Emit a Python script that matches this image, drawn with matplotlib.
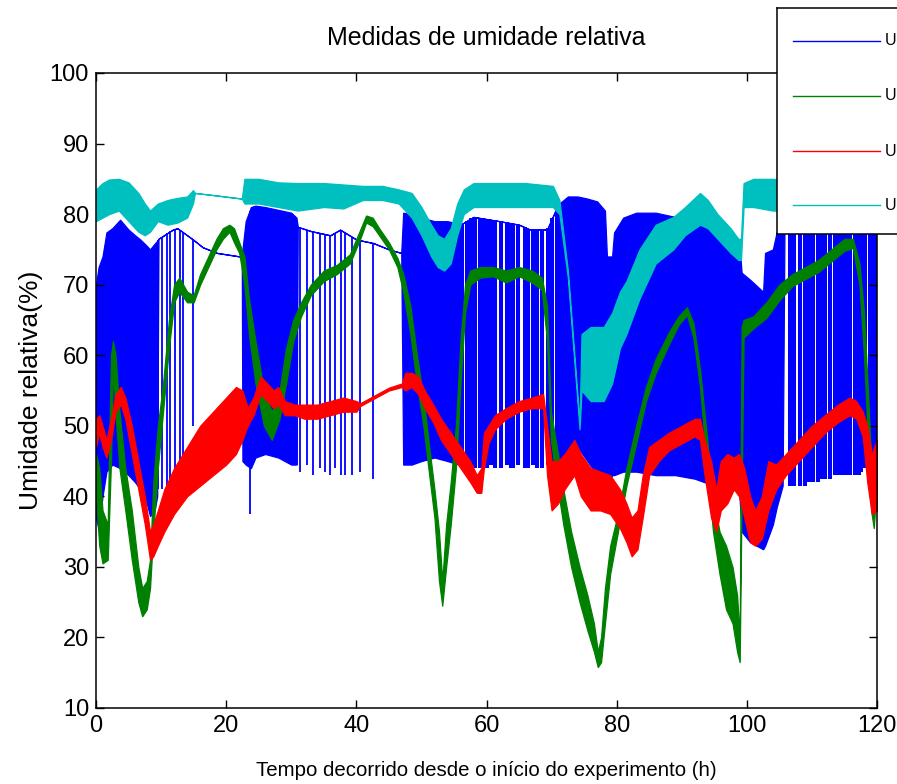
import numpy as np
import matplotlib
matplotlib.use("Agg")
import matplotlib.pyplot as plt

# ---------------- data: time (h) and relative humidity (%) ----------------
# Sensor 1 (blue): envelope of the fast oscillation (top / bottom).
# Where bottom == top only the upper trace is drawn; drops are listed apart.
blue_t = [0, 0.4, 1.0, 1.6, 2.5, 3.7, 5.0, 6.0, 6.8, 7.8, 8.3, 9.0, 9.4, 9.6,
          11.8, 12.5, 14.9, 16.4, 18.6, 22.1, 22.4, 22.5, 23.0, 23.8, 24.5,
          26.0, 28.0, 30.0, 30.8, 31.0, 33.0, 36.0, 37.5, 40.0, 42.6, 45.0,
          46.9, 47.2, 48.5, 50.0, 52.0, 54.0, 55.8, 56.0, 58.0, 62.0, 65.0,
          66.7, 69.3, 70.6, 71.2, 72.5, 74.0, 75.5, 77.0, 78.2, 78.5, 79.3,
          79.6, 81.0, 83.0, 86.0, 89.0, 92.0, 93.5, 95.0, 97.0, 98.8, 99.2,
          100.5, 102.5, 102.8, 104.0, 104.6, 105.5, 105.8, 110.0, 115.0, 120.0]
blue_top = [70, 72.5, 74, 77.4, 78, 79.2, 77.8, 77, 76.4, 75.5, 75, 75.8, 76.2, 76.5,
            77.8, 78, 76.4, 75.3, 74.5, 74, 74, 75, 79, 81, 81.2,
            81, 80.6, 80.2, 79.5, 78.2, 77.6, 77, 77.8, 76.4, 75.9, 75,
            74.5, 80.2, 80, 79.5, 79, 79, 78.6, 78.5, 79.6, 79, 78.5,
            77.8, 77.8, 80.5, 81.5, 82.5, 82.5, 82.2, 81.8, 80.5, 74, 74,
            77.4, 79.5, 80.2, 80.2, 79.6, 79.6, 78.8, 77.8, 77, 76.4, 71.7,
            70.7, 69, 74.5, 75, 77.5, 80, 80, 80, 80, 80]
blue_bot = [37, 35.3, 40, 43.5, 44.5, 44, 43, 42, 41, 39, 37.2, 38, 40, 76.5,
            77.8, 78, 76.4, 75.3, 74.5, 74, 74, 45, 44.5, 44, 45.5,
            46, 45.5, 44.5, 44.5, 78.2, 77.6, 77, 77.8, 76.4, 75.9, 75,
            74.5, 44.5, 44.5, 45, 45.5, 45, 44.5, 78.5, 79.6, 79, 78.5,
            77.8, 77.8, 80.5, 44, 46, 47, 45, 43, 41.5, 41.5, 43,
            43, 43.5, 43.5, 43, 43, 42.5, 42, 41.5, 41, 41, 35,
            33.5, 32.5, 33, 36, 38.5, 41.5, 80, 80, 80, 80]

# isolated drops of sensor 1
blue_drop_t = [9.5, 10.1, 10.9, 11.4, 12.1, 12.9, 13.4, 14.9, 23.6,
               30.9, 31.3, 32.4, 33.3, 34.4, 35.2, 36.0, 36.7, 37.6, 38.3,
               39.3, 40.6, 42.6]
blue_drop_low = [41, 41, 40.5, 41.5, 41, 41, 41.5, 50, 37.5,
                 44.5, 43.5, 44.5, 43, 44, 43.5, 43, 44, 43, 43,
                 43, 43.5, 42.5]

# closely packed drops of sensor 1
blue_burst_t = [56.3, 57.0, 57.6, 58.3, 59.0, 59.6, 60.1, 60.7, 61.3, 62.3,
                63.1, 63.7, 64.1, 64.9, 65.9, 66.4, 67.2, 67.8, 68.6, 69.4,
                70.1, 70.8,
                106.6, 107.3, 108.2, 108.9, 109.5, 110.1, 111.0, 111.5, 112.0,
                112.8, 113.6, 114.1, 114.7, 115.3, 115.8, 116.6, 117.2, 117.6,
                118.2, 118.9, 119.5, 119.9]
blue_burst_low = [44.5, 44, 44.5, 44, 44, 44.5, 44, 44.5, 44, 44,
                  44.5, 44, 44, 44.5, 44, 44, 44.5, 44, 44, 44.5,
                  45, 45,
                  41.5, 41.5, 41.5, 41.5, 42, 42, 42, 42.5, 42.5,
                  42.5, 43, 43, 43, 43, 43, 43, 43, 43.5,
                  44, 44, 44, 44]

# Sensor 2 (green): lower / upper edge of the noisy trace
green_t = [0, 0.5, 1.0, 1.8, 2.3, 2.6, 3.0, 3.6, 4.5, 5.5, 6.5, 7.1, 7.8, 8.3,
           8.8, 9.5, 10.3, 11.2, 12.0, 12.8, 14.0, 15.0, 16.0, 17.5, 18.5,
           19.5, 20.5, 21.2, 22.0, 22.8, 23.5, 24.5, 25.8, 27.0, 28.2, 29.2,
           30.3, 31.5, 33.0, 35.0, 37.0, 39.0, 40.6, 41.5, 42.5, 43.5, 45.0,
           46.3, 47.2, 48.3, 49.3, 50.3, 51.2, 52.0, 52.7, 53.2, 53.8, 54.5,
           55.3, 56.0, 56.7, 57.5, 59.0, 61.0, 63.0, 65.0, 67.0, 68.5, 69.3,
           69.9, 70.8, 71.8, 73.0, 74.3, 75.5, 76.5, 77.1, 77.6, 78.2, 79.0,
           80.3, 81.5, 83.0, 84.5, 86.0, 88.0, 89.5, 90.8, 91.8, 92.8, 93.8,
           94.8, 95.8, 96.8, 97.8, 98.5, 98.9, 99.2, 99.5, 101.0, 103.0,
           105.0, 107.0, 109.0, 111.0, 113.0, 115.0, 116.3, 117.3, 118.0,
           118.6, 119.1, 119.5, 120.0]
green_lo = [40, 33, 30.5, 31, 45, 58, 52, 44, 38, 31, 25, 23, 24, 27,
            35, 44, 52, 61, 67.5, 69, 67.5, 67.5, 70, 73, 75,
            76.5, 77.5, 76, 74.5, 70, 63, 56, 50, 48, 51, 56,
            62, 65.5, 68.5, 70.5, 71.5, 73, 76.5, 78.8, 78.3, 77, 75,
            72.5, 69, 63, 56, 50, 43, 37, 28, 24.5, 30, 36,
            44, 56, 66, 70, 71, 71.2, 70.3, 71.2, 70.3, 69.3, 62,
            48, 42, 36, 30, 25, 21, 18, 15.8, 16.5, 22, 29,
            35.5, 41.5, 47.5, 53.5, 57.5, 61.5, 64.3, 65.7, 62.5, 55.5, 45,
            35, 29, 24, 22, 18, 16.5, 40, 62.5, 63.8, 65.3,
            67.8, 69.8, 70.8, 71.8, 73.3, 74.8, 75.2, 70, 60,
            48, 38, 35.5, 42]
green_hi = [46, 44, 38, 36, 60, 62, 60, 52, 44, 38, 30, 27, 28, 31,
            42, 50, 56, 65, 70, 71, 69, 68.5, 71.5, 74.5, 76.5,
            78, 78.5, 78, 76, 74, 68, 62, 55, 52, 55, 61,
            65, 67.5, 70, 72, 72.8, 74.3, 77.8, 79.8, 79.5, 78, 76,
            73.8, 71.5, 67, 60, 54, 47, 41, 35, 28, 36, 42,
            50, 62, 70, 72, 72.5, 72.5, 72, 72.5, 72, 71, 67,
            52, 47, 41, 35, 30, 26, 22, 18, 20, 27, 33,
            38, 44, 50, 55.5, 59.5, 63.2, 65.5, 66.8, 64.5, 58, 49,
            40, 35, 33, 30, 26, 20, 64, 65, 65.5, 67.5,
            70, 71.5, 72.5, 73.5, 75, 76.5, 76.5, 73, 66,
            55, 45, 40, 46]

# Sensor 3 (red)
red_t = [0, 0.5, 1.0, 1.6, 2.3, 3.0, 3.8, 4.5, 5.5, 6.5, 7.5, 8.3, 8.8, 9.5,
         10.5, 12.0, 14.0, 16.0, 18.0, 20.0, 21.5, 22.5, 23.3, 24.2, 25.3,
         26.3, 27.3, 28.0, 29.0, 30.5, 32.0, 34.0, 36.0, 38.0, 40.0, 40.6,
         43.0, 45.0, 47.0, 47.5, 48.5, 49.5, 50.5, 51.8, 53.0, 54.5, 56.0,
         57.5, 58.5, 59.2, 59.6, 60.3, 61.3, 63.0, 65.0, 67.0, 68.7, 69.3,
         70.0, 71.0, 72.0, 73.5, 74.5, 76.0, 77.5, 79.0, 80.5, 81.5, 82.3,
         83.2, 84.0, 85.0, 86.5, 88.0, 90.0, 92.0, 92.8, 93.5, 94.5, 95.3,
         96.0, 97.0, 98.0, 98.8, 99.6, 100.5, 101.3, 102.3, 103.3, 104.5,
         106.0, 108.0, 110.0, 112.0, 114.0, 115.8, 116.8, 117.8, 118.5,
         119.2, 120.0]
red_lo = [47, 49, 47, 45.5, 48, 52, 53, 51, 46, 41, 36, 31, 31.5, 33,
          35, 37.5, 40, 41.5, 43, 44.5, 46, 48, 50, 51.5, 54.5,
          53.5, 52.5, 53, 51.5, 51.5, 51, 51, 51.5, 52, 52, 52.8,
          54, 55, 55.5, 55, 55.5, 54.5, 52.5, 50.5, 48, 46, 44,
          42, 40.5, 40.5, 44, 47.5, 49.5, 51, 52, 52.5, 52.5, 43,
          38, 39, 41, 43, 40, 38, 38, 37.5, 35.5, 33.5, 31.5,
          32.5, 37, 43, 45, 46.5, 47.5, 48.5, 48, 43, 37, 35,
          38, 39, 41, 40, 37, 33.5, 33, 34, 38, 41,
          43, 45, 47, 49, 50.5, 51.5, 51, 48.5, 42,
          37.5, 38]
red_hi = [51, 51.5, 50, 48, 51, 54.5, 55.5, 54, 50, 45, 40, 35, 36, 38,
          41, 44, 47, 50, 52, 54, 55.5, 55, 52.5, 54, 57,
          56, 55, 55.5, 53.5, 53, 53, 53, 53.5, 54, 53.5, 53.2,
          54.4, 55.4, 56, 57.5, 57.5, 57, 55, 53, 51, 49, 47,
          45, 43, 44, 49, 50, 51.5, 52.5, 53.5, 54, 54.5, 50,
          45, 45, 46, 48, 46, 44, 43.5, 43, 41, 39, 37,
          38, 43, 47, 48, 49, 50, 51, 51, 48, 45, 41,
          45, 46, 45.5, 46, 44, 40, 38, 40, 45, 44.5,
          46, 48, 50, 51.5, 53, 54, 53.5, 52, 50,
          46, 48]

# Sensor 4 (cyan)
cyan_t = [0, 1, 2, 3.5, 5, 6.5, 7.5, 8.3, 9.5, 11, 12.5, 14, 14.9, 15.2, 18,
          22.4, 22.8, 25, 28, 31, 35, 38, 41, 44, 46.5, 48.5, 50, 51.5, 52.5,
          53.5, 54.5, 55.5, 56.5, 58, 62, 66, 70.2, 71.2, 72.5, 74.3, 74.6,
          76, 78, 79.3, 80.5, 81.5, 83.5, 86, 88.7, 90.5, 92.8, 94, 95.5,
          97.5, 98.7, 99.1, 99.5, 101, 104, 110, 115, 120]
cyan_lo = [79, 79.5, 80, 80.5, 79, 77.5, 77, 77.5, 79, 78.5, 78.8, 79.5, 81.5, 83, 82.7,
           82.2, 81.5, 81.5, 81, 80.5, 81, 80.8, 82, 82, 81.5, 79.5, 77, 74, 72.5,
           72, 73, 77, 80, 81, 81, 81, 81, 80, 71, 49.5, 55,
           53.5, 53.5, 56, 61, 63, 68, 73, 75, 77, 78.5, 78, 76.5,
           74.5, 73.5, 73.5, 81, 81, 80.5, 80.5, 80.5, 80.5]
cyan_hi = [83.5, 84.4, 84.9, 85, 84.5, 83, 81.5, 80.5, 81.5, 82, 82.3, 82.5, 83.4, 83, 82.7,
           82.2, 85, 85, 84.5, 84.4, 84.4, 84.2, 84, 84, 83.5, 83, 81, 78.5, 77,
           76.5, 78, 81.5, 83.5, 84.4, 84.4, 84.4, 84, 82, 72, 50.5, 63,
           64, 64, 66, 69, 70.5, 75, 78.5, 79.6, 81, 83, 82, 80,
           78, 76.5, 76.5, 84.4, 85, 85, 84.5, 84.5, 84.5]

series_labels = ["U", "U", "U", "U"]
x_ticks = [0, 20, 40, 60, 80, 100, 120]
y_ticks = [10, 20, 30, 40, 50, 60, 70, 80, 90, 100]

title_text = "Medidas de umidade relativa"
x_label = "Tempo decorrido desde o início do experimento (h)"
y_label = "Umidade relativa(%)"

# ---------------- styling ----------------
C_BLUE = (0.0, 0.0, 1.0)
C_GREEN = (0.0, 0.5, 0.0)
C_RED = (1.0, 0.0, 0.0)
C_CYAN = (0.0, 0.75, 0.75)
colors = [C_BLUE, C_GREEN, C_RED, C_CYAN]

plt.rcParams['font.family'] = ['Liberation Sans', 'DejaVu Sans']

W, H = 897, 784
fig = plt.figure(figsize=(W / 100, H / 100), dpi=100)
fig.patch.set_facecolor('white')

ax_l, ax_r, ax_t, ax_b = 96, 877, 73, 708
ax = fig.add_axes([ax_l / W, (H - ax_b) / H, (ax_r - ax_l) / W, (ax_b - ax_t) / H])


def band(t, lo, hi, color, z, lw=0.9):
    ax.fill_between(t, lo, hi, facecolor=color, edgecolor=color,
                    linewidth=lw, zorder=z)


# sensor 1
band(blue_t, blue_bot, blue_top, C_BLUE, 1)
drop_tops = np.interp(blue_drop_t, blue_t, blue_top)
ax.vlines(blue_drop_t, blue_drop_low, drop_tops, colors=[C_BLUE], linewidth=1.3, zorder=1)
burst_tops = np.interp(blue_burst_t, blue_t, blue_top)
ax.vlines(blue_burst_t, blue_burst_low, burst_tops, colors=[C_BLUE], linewidth=2.9, zorder=1)

# sensors 2..4
band(green_t, green_lo, green_hi, C_GREEN, 2)
band(red_t, red_lo, red_hi, C_RED, 3)
band(cyan_t, cyan_lo, cyan_hi, C_CYAN, 4)

ax.set_xlim(0, 120)
ax.set_ylim(10, 100)
ax.set_xticks(x_ticks)
ax.set_yticks(y_ticks)
ax.tick_params(direction='in', length=6, width=1.0, top=True, right=True,
               labelsize=17, pad=5)
for s in ax.spines.values():
    s.set_linewidth(1.1)
    s.set_zorder(6)

ax.set_title(title_text, fontsize=18, pad=20)
ax.set_xlabel(x_label, fontsize=14.7, labelpad=17)
ax.set_ylabel(y_label, fontsize=19, labelpad=5)

# legend box placed in figure pixels, running past the right edge
lg_l, lg_t, lg_b = 777, 8, 234
lg = fig.add_axes([lg_l / W, (H - lg_b) / H, 220 / W, (lg_b - lg_t) / H])
lg.set_xlim(0, 220)
lg.set_ylim(lg_b - lg_t, 0)
lg.set_xticks([])
lg.set_yticks([])
lg.set_facecolor('white')
for s in lg.spines.values():
    s.set_linewidth(1.1)
lg.set_zorder(10)
row_y = [33, 88, 143, 197]
for yy, c, lab in zip(row_y, colors, series_labels):
    lg.plot([16, 103], [yy, yy], color=c, linewidth=1.0)
    lg.text(108, yy, lab, fontsize=11.5, va='center', ha='left')

fig.savefig("out.png", dpi=100, facecolor='white')
